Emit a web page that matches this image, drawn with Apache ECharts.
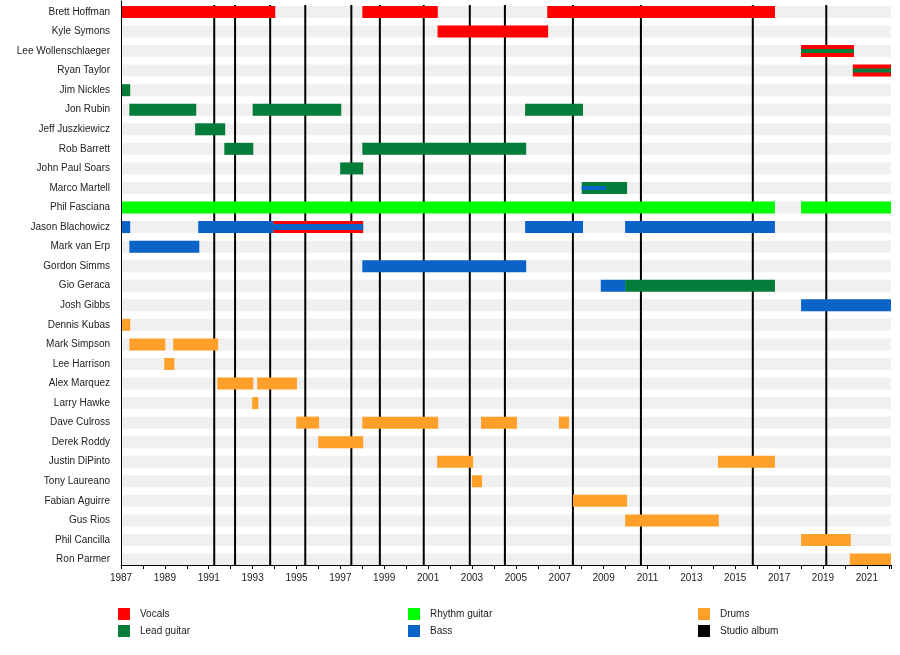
<!DOCTYPE html>
<html>
<head>
<meta charset="utf-8">
<script src="https://cdn.jsdelivr.net/npm/echarts@6/dist/echarts.min.js"></script>
<style>
html, body { margin: 0; padding: 0; background: #fff; }
#chart { width: 900px; height: 655px; }
</style>
</head>
<body>
<div id="chart"></div>
<script>
// band members, top to bottom
const members = [
    'Brett Hoffman', 'Kyle Symons', 'Lee Wollenschlaeger', 'Ryan Taylor', 'Jim Nickles',
    'Jon Rubin', 'Jeff Juszkiewicz', 'Rob Barrett', 'John Paul Soars', 'Marco Martell',
    'Phil Fasciana', 'Jason Blachowicz', 'Mark van Erp', 'Gordon Simms', 'Gio Geraca',
    'Josh Gibbs', 'Dennis Kubas', 'Mark Simpson', 'Lee Harrison', 'Alex Marquez',
    'Larry Hawke', 'Dave Culross', 'Derek Roddy', 'Justin DiPinto', 'Tony Laureano',
    'Fabian Aguirre', 'Gus Rios', 'Phil Cancilla', 'Ron Parmer'
];

// [member, from, to]
const vocals = [
    ['Brett Hoffman', 1987, 1994.03],
    ['Brett Hoffman', 1998.0, 2001.44],
    ['Brett Hoffman', 2006.43, 2016.81],
    ['Kyle Symons', 2001.43, 2006.47],
    ['Lee Wollenschlaeger', 2018.0, 2020.41],
    ['Ryan Taylor', 2020.36, 2022.1],
    ['Jason Blachowicz', 1993.94, 1998.04]
];
const leadGuitar = [
    ['Jim Nickles', 1987, 1987.42],
    ['Jon Rubin', 1987.38, 1990.43],
    ['Jon Rubin', 1993.0, 1997.04],
    ['Jon Rubin', 2005.42, 2008.06],
    ['Jeff Juszkiewicz', 1990.38, 1991.75],
    ['Rob Barrett', 1991.71, 1993.03],
    ['Rob Barrett', 1998.0, 2005.47],
    ['John Paul Soars', 1996.99, 1998.04],
    ['Marco Martell', 2008.0, 2010.07],
    ['Gio Geraca', 2009.98, 2016.81]
];
const rhythmGuitar = [
    ['Phil Fasciana', 1987, 2016.81],
    ['Phil Fasciana', 2018.0, 2022.1]
];
const bass = [
    ['Jason Blachowicz', 1987, 1987.42],
    ['Jason Blachowicz', 1990.52, 1993.94],
    ['Jason Blachowicz', 2005.42, 2008.06],
    ['Jason Blachowicz', 2009.98, 2016.81],
    ['Mark van Erp', 1987.38, 1990.57],
    ['Gordon Simms', 1998.0, 2005.47],
    ['Gio Geraca', 2008.87, 2009.98],
    ['Josh Gibbs', 2018.0, 2022.1]
];
const drums = [
    ['Dennis Kubas', 1987, 1987.42],
    ['Mark Simpson', 1987.38, 1989.02],
    ['Mark Simpson', 1989.38, 1991.43],
    ['Lee Harrison', 1988.97, 1989.43],
    ['Alex Marquez', 1991.39, 1993.03],
    ['Alex Marquez', 1993.21, 1995.02],
    ['Larry Hawke', 1992.98, 1993.26],
    ['Dave Culross', 1994.99, 1996.03],
    ['Dave Culross', 1998.0, 2001.46],
    ['Dave Culross', 2003.41, 2005.05],
    ['Dave Culross', 2006.96, 2007.42],
    ['Derek Roddy', 1995.99, 1998.04],
    ['Justin DiPinto', 2001.41, 2003.05],
    ['Justin DiPinto', 2014.21, 2016.81],
    ['Tony Laureano', 2003.0, 2003.46],
    ['Fabian Aguirre', 2007.6, 2010.07],
    ['Gus Rios', 2009.98, 2014.25],
    ['Phil Cancilla', 2018.0, 2020.27],
    ['Ron Parmer', 2020.22, 2022.1]
];
// second role shown as a thin stripe inside a bar: [member, from, to, role]
const secondRoles = [
    ['Lee Wollenschlaeger', 2018.0, 2020.41, 'Lead guitar'],
    ['Ryan Taylor', 2020.36, 2022.1, 'Lead guitar'],
    ['Jason Blachowicz', 1993.94, 1998.04, 'Bass'],
    ['Marco Martell', 2008.0, 2009.1, 'Bass']
];
// studio album release dates
const albums = [1991.25, 1992.2, 1993.8, 1995.4, 1997.5, 1998.8, 2000.8,
    2002.9, 2004.5, 2007.6, 2010.7, 2015.8, 2019.15];

const startYear = 1987;
const endYear = 2022.1;

const font = 'Liberation Sans, Arial, sans-serif';
const colors = {
    'Vocals': '#ff0000',
    'Lead guitar': '#047d3a',
    'Rhythm guitar': '#00ff00',
    'Bass': '#0a64c8',
    'Drums': '#ffa02a',
    'Studio album': '#000000'
};
const yMin = -0.56, yMax = 28.28;
const barH = 12;

function spans(list) {
    return list.map((d) => [members.indexOf(d[0]), d[1], d[2], d[3] || '']);
}

function renderBar(params, api) {
    let row = api.value(0);
    let a = api.coord([api.value(1), row]);
    let b = api.coord([api.value(2), row]);
    return {
        type: 'rect',
        shape: { x: a[0], y: a[1] - barH / 2, width: b[0] - a[0], height: barH },
        style: { fill: api.visual('color') }
    };
}

function renderStripe(params, api) {
    let d = secondRoles[params.dataIndex];
    let row = api.value(0);
    let a = api.coord([api.value(1), row]);
    let b = api.coord([api.value(2), row]);
    let h = d[0] === 'Jason Blachowicz' ? 6 : 4;
    return {
        type: 'rect',
        shape: { x: a[0], y: a[1] - h / 2, width: b[0] - a[0], height: h },
        style: { fill: colors[d[3]] }
    };
}

function renderRow(params, api) {
    let row = api.value(0);
    let a = api.coord([startYear, row]);
    let b = api.coord([endYear, row]);
    return {
        type: 'group',
        children: [{
            type: 'rect',
            shape: { x: a[0], y: a[1] - barH / 2, width: b[0] - a[0], height: barH },
            style: { fill: '#f0f0f0' }
        }, {
            type: 'text',
            style: {
                text: members[row], x: a[0] - 11, y: a[1],
                align: 'right', verticalAlign: 'middle',
                fontSize: 10, fontFamily: font, fill: '#222'
            }
        }]
    };
}

function renderAlbum(params, api) {
    let a = api.coord([api.value(0), -0.36]);
    let b = api.coord([api.value(0), yMax]);
    return {
        type: 'line',
        shape: { x1: a[0], y1: a[1], x2: b[0], y2: b[1] },
        style: { stroke: '#000', lineWidth: 2 }
    };
}

function roleSeries(name, list) {
    return {
        name: name,
        type: 'custom',
        renderItem: renderBar,
        itemStyle: { color: colors[name] },
        data: spans(list),
        z: 4,
        silent: true
    };
}

function legendBox(left, names) {
    return {
        left: left, top: 608,
        orient: 'vertical',
        icon: 'rect',
        itemWidth: 12, itemHeight: 12, itemGap: 5,
        padding: 0,
        selectedMode: false,
        textStyle: { fontSize: 10, fontFamily: font, color: '#222', padding: [1, 0, 0, 5] },
        data: names
    };
}

let option = {
    animation: false,
    backgroundColor: '#fff',
    grid: { left: 121, right: 9, top: 1, bottom: 90 },
    xAxis: {
        type: 'value',
        min: startYear, max: endYear, interval: 1,
        z: 10,
        splitLine: { show: false },
        axisLine: { onZero: false, lineStyle: { color: '#000', width: 1 } },
        axisTick: { length: 4, lineStyle: { color: '#000' } },
        axisLabel: {
            margin: 8, fontSize: 10, fontFamily: font, color: '#222',
            formatter: (v) => (Number.isInteger(v) && v % 2 === 1) ? String(v) : ''
        }
    },
    yAxis: {
        type: 'value', inverse: true,
        min: yMin, max: yMax,
        z: 10,
        axisLine: { show: true, onZero: false, lineStyle: { color: '#000', width: 1 } },
        axisTick: { show: false },
        axisLabel: { show: false },
        splitLine: { show: false }
    },
    legend: [
        legendBox(118, ['Vocals', 'Lead guitar']),
        legendBox(408, ['Rhythm guitar', 'Bass']),
        legendBox(698, ['Drums', 'Studio album'])
    ],
    series: [
        {
            name: 'rows', type: 'custom', renderItem: renderRow,
            data: members.map((m, i) => [i]), z: 1, silent: true
        },
        {
            name: 'Studio album', type: 'custom', renderItem: renderAlbum,
            itemStyle: { color: colors['Studio album'] },
            data: albums.map((y) => [y]), z: 2, silent: true
        },
        roleSeries('Vocals', vocals),
        roleSeries('Lead guitar', leadGuitar),
        roleSeries('Rhythm guitar', rhythmGuitar),
        roleSeries('Bass', bass),
        roleSeries('Drums', drums),
        {
            name: 'second role', type: 'custom', renderItem: renderStripe,
            data: spans(secondRoles), z: 5, silent: true
        }
    ]
};

let myChart = echarts.init(document.getElementById('chart'));
myChart.setOption(option);
</script>
</body>
</html>
